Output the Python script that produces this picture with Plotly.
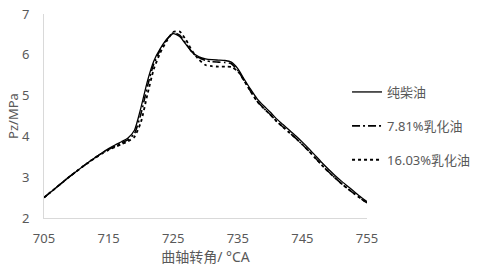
import plotly.graph_objects as go

crank = list(range(705, 756))

pure_diesel = [2.50, 2.63, 2.76, 2.89, 3.02, 3.14, 3.26, 3.38, 3.49, 3.60,
               3.70, 3.79, 3.87, 3.96, 4.15, 4.70, 5.35, 5.85, 6.15, 6.38,
               6.52, 6.45, 6.25, 6.05, 5.95, 5.90, 5.88, 5.87, 5.86, 5.82,
               5.66, 5.40, 5.15, 4.92, 4.75, 4.60, 4.43, 4.29, 4.15, 4.01,
               3.86, 3.70, 3.53, 3.36, 3.20, 3.05, 2.91, 2.78, 2.65, 2.52, 2.40]

emul_781 = [2.50, 2.63, 2.76, 2.89, 3.02, 3.14, 3.26, 3.38, 3.49, 3.59,
            3.68, 3.76, 3.84, 3.92, 4.07, 4.55, 5.22, 5.78, 6.12, 6.37,
            6.54, 6.48, 6.27, 6.05, 5.93, 5.86, 5.83, 5.82, 5.81, 5.78,
            5.62, 5.36, 5.10, 4.86, 4.69, 4.54, 4.37, 4.23, 4.09, 3.95,
            3.80, 3.64, 3.47, 3.30, 3.14, 2.99, 2.85, 2.72, 2.60, 2.48, 2.37]

emul_1603 = [2.50, 2.63, 2.76, 2.89, 3.02, 3.14, 3.26, 3.37, 3.48, 3.58,
             3.67, 3.74, 3.81, 3.88, 3.99, 4.35, 5.02, 5.65, 6.05, 6.34,
             6.56, 6.57, 6.36, 6.08, 5.88, 5.75, 5.72, 5.71, 5.71, 5.70,
             5.60, 5.36, 5.10, 4.86, 4.69, 4.54, 4.37, 4.23, 4.09, 3.95,
             3.80, 3.64, 3.47, 3.30, 3.14, 2.99, 2.85, 2.72, 2.60, 2.48, 2.37]

x_ticks = [705, 715, 725, 735, 745, 755]
y_ticks = [2, 3, 4, 5, 6, 7]

names = ["纯柴油", "7.81%乳化油", "16.03%乳化油"]
series = [pure_diesel, emul_781, emul_1603]
dashes = ["solid", "8px,3px,2px,3px", "dot"]
widths = [1.3, 1.6, 1.8]

fig = go.Figure()
for i, (n, s, d, w) in enumerate(zip(names, series, dashes, widths)):
    fig.add_trace(go.Scatter(
        x=crank, y=s, mode="lines", name=n, legendgroup=str(i),
        line=dict(color="black", width=w, dash=d, shape="spline", smoothing=0.6),
    ))

font_family = "Noto Sans, Noto Sans CJK SC, sans-serif"
fig.update_layout(
    width=478, height=274,
    margin=dict(l=44, r=111, t=14, b=56, autoexpand=False),
    paper_bgcolor="white", plot_bgcolor="white",
    font=dict(family=font_family, size=13, color="#595959"),
    showlegend=True,
    legend=dict(xref="container", yref="container", x=0.726, xanchor="left",
                y=0.719, yanchor="top",
                tracegroupgap=14, font=dict(size=13, color="#595959"),
                bgcolor="rgba(0,0,0,0)", itemwidth=30),
    xaxis=dict(range=[705, 755], tickvals=x_ticks, ticktext=[str(v) for v in x_ticks],
               showgrid=False, zeroline=False, showline=True, linecolor="#d9d9d9",
               linewidth=1, ticks="", ticklabelstandoff=8, automargin=False,
               tickfont=dict(size=13, color="#595959"),
               title=dict(text="曲轴转角/ °CA", font=dict(size=14, color="#595959"),
                          standoff=4)),
    yaxis=dict(range=[2, 7], tickvals=y_ticks, ticktext=[str(v) for v in y_ticks],
               showgrid=False, zeroline=False, showline=True, linecolor="#d9d9d9",
               linewidth=1, ticks="", ticklabelstandoff=11, automargin=False,
               tickfont=dict(size=13, color="#595959"),
               title=dict(text="Pz/MPa", font=dict(size=13, color="#595959"),
                          standoff=0)),
)

fig.write_html("out.html")
